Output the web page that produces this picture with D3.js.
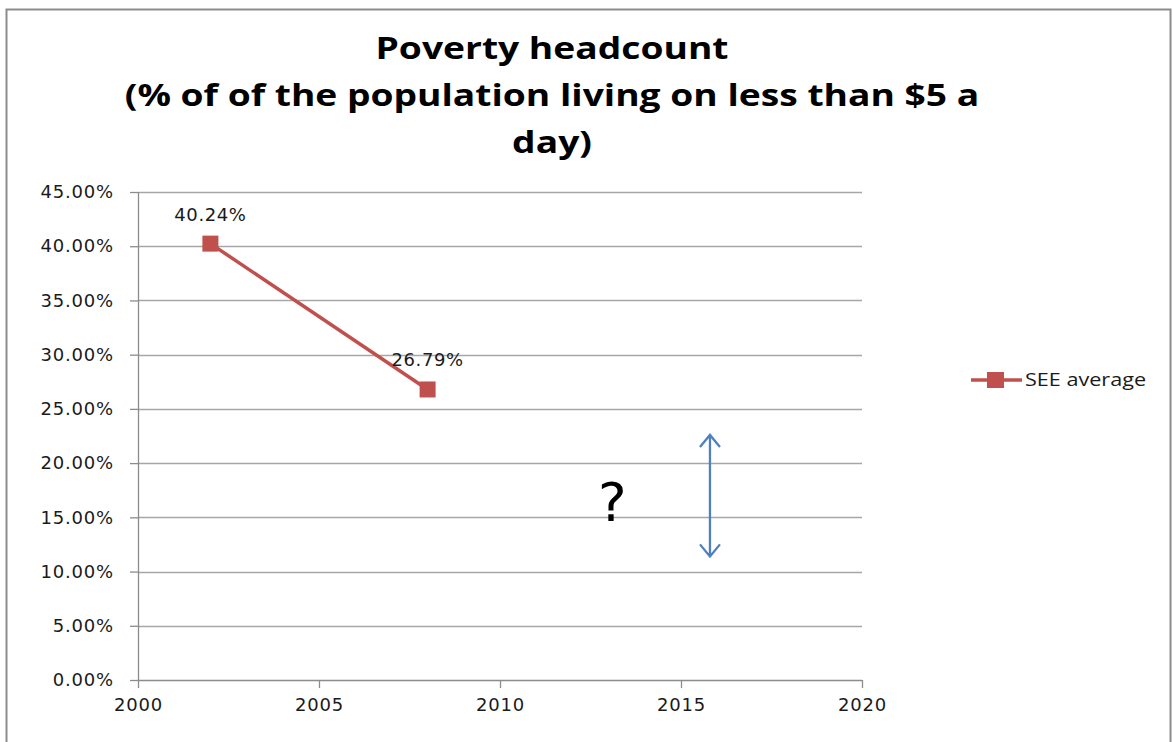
<!DOCTYPE html>
<html>
<head>
<meta charset="utf-8">
<script src="https://cdn.jsdelivr.net/npm/d3@7"></script>
<style>
  body { margin: 0; background: #fff; }
  text { font-family: "DejaVu Sans", sans-serif; }
</style>
</head>
<body>
<div id="chart"></div>
<script>
// data
var years = [2002, 2008];
var seeAverage = [0.4024, 0.2679];
var seriesName = "SEE average";
var yTicks = [0, 0.05, 0.10, 0.15, 0.20, 0.25, 0.30, 0.35, 0.40, 0.45];
var xTicks = [2000, 2005, 2010, 2015, 2020];
var titleLines = ["Poverty headcount", "(% of of the population living on less than $5 a", "day)"];
// the hand-drawn "?" and the blue double arrow (in data units)
var questionAt = {year: 2013.1, value: 0.147};
var arrowRange = {year: 2015.8, from: 0.226, to: 0.114};

var W = 1173, H = 742;
var margin = {top: 192, right: 311, bottom: 62, left: 138};
var width = W - margin.left - margin.right,
    height = H - margin.top - margin.bottom;
var red = "#c0504d", blue = "#4f81bd";

var svg = d3.select("#chart").append("svg")
    .attr("width", W)
    .attr("height", H);

// outer chart border
svg.append("rect")
    .attr("x", 6.5).attr("y", 9.5)
    .attr("width", 1164).attr("height", 760)
    .attr("fill", "none")
    .attr("stroke", "#8c8c8c")
    .attr("stroke-width", 2);

// the original is stretched sideways, so squeeze the fonts the same way
svg.append("g")
    .attr("transform", "translate(552,0) scale(1.2,1)")
  .selectAll("text")
    .data(titleLines)
  .enter().append("text")
    .attr("x", 0)
    .attr("y", function(d, i) { return 59 + i * 47; })
    .attr("text-anchor", "middle")
    .style("font-family", "'Open Sans', sans-serif")
    .style("font-weight", "bold")
    .style("font-size", "31px")
    .text(function(d) { return d; });

var g = svg.append("g")
    .attr("transform", "translate(" + margin.left + "," + margin.top + ")");

var x = d3.scaleLinear().domain([2000, 2020]).range([0, width]);
var y = d3.scaleLinear().domain([0, 0.45]).range([height, 0]);

// gridlines
g.append("g")
    .selectAll("line")
    .data(yTicks.slice(1))
  .enter().append("line")
    .attr("x1", 0).attr("x2", width)
    .attr("y1", function(d) { return Math.round(y(d)) + 0.5; })
    .attr("y2", function(d) { return Math.round(y(d)) + 0.5; })
    .attr("stroke", "#a6a6a6")
    .attr("stroke-width", 1.3);

var yAxis = g.append("g")
    .call(d3.axisLeft(y).tickValues(yTicks).tickFormat(d3.format(".2%")).tickSize(8).tickPadding(16));
var xAxis = g.append("g")
    .attr("transform", "translate(0," + height + ")")
    .call(d3.axisBottom(x).tickValues(xTicks).tickFormat(d3.format("d")).tickSize(8).tickPadding(10));

[yAxis, xAxis].forEach(function(ax) {
  ax.selectAll("path, line").attr("stroke", "#8c8c8c").attr("stroke-width", 1.3);
  ax.selectAll("text")
      .attr("fill", "#1a1a1a")
      .style("font-size", "18px")
      .style("letter-spacing", "0.8px");
});
yAxis.select(".domain").attr("d", "M0.5,0V" + height);
xAxis.select(".domain").attr("d", "M0,0.5H" + width);

var pts = years.map(function(d, i) { return {year: d, value: seeAverage[i]}; });

var line = d3.line()
    .x(function(d) { return x(d.year); })
    .y(function(d) { return y(d.value); });

g.append("path")
    .datum(pts)
    .attr("d", line)
    .attr("fill", "none")
    .attr("stroke", red)
    .attr("stroke-width", 3.5);

g.selectAll(".marker")
    .data(pts)
  .enter().append("rect")
    .attr("class", "marker")
    .attr("x", function(d) { return x(d.year) - 8; })
    .attr("y", function(d) { return y(d.value) - 8; })
    .attr("width", 16).attr("height", 16)
    .attr("fill", red);

g.selectAll(".label")
    .data(pts)
  .enter().append("text")
    .attr("class", "label")
    .attr("x", function(d) { return x(d.year); })
    .attr("y", function(d) { return y(d.value) - 23; })
    .attr("text-anchor", "middle")
    .attr("fill", "#1a1a1a")
    .style("font-size", "18px")
    .style("letter-spacing", "0.6px")
    .text(function(d) { return d3.format(".2%")(d.value); });

// annotation
g.append("text")
    .attr("x", x(questionAt.year))
    .attr("y", y(questionAt.value))
    .attr("text-anchor", "middle")
    .style("font-size", "54px")
    .text("?");

var ax = x(arrowRange.year), a1 = y(arrowRange.from), a2 = y(arrowRange.to);
g.append("path")
    .attr("d", "M" + ax + "," + a1 + "V" + a2 +
      "M" + (ax - 10) + "," + (a1 + 12) + "L" + ax + "," + a1 + "L" + (ax + 10) + "," + (a1 + 12) +
      "M" + (ax - 10) + "," + (a2 - 12) + "L" + ax + "," + a2 + "L" + (ax + 10) + "," + (a2 - 12))
    .attr("fill", "none")
    .attr("stroke", blue)
    .attr("stroke-width", 2.3);

// legend
var legend = svg.append("g").attr("transform", "translate(971,380)");
legend.append("line")
    .attr("x1", 0).attr("x2", 51)
    .attr("stroke", red).attr("stroke-width", 3.5);
legend.append("rect")
    .attr("x", 16).attr("y", -8)
    .attr("width", 17).attr("height", 16)
    .attr("fill", red);
legend.append("text")
    .attr("transform", "translate(54,6) scale(1.2,1)")
    .attr("fill", "#1a1a1a")
    .style("font-family", "'Open Sans', sans-serif")
    .style("font-size", "18px")
    .text(seriesName);
</script>
</body>
</html>
